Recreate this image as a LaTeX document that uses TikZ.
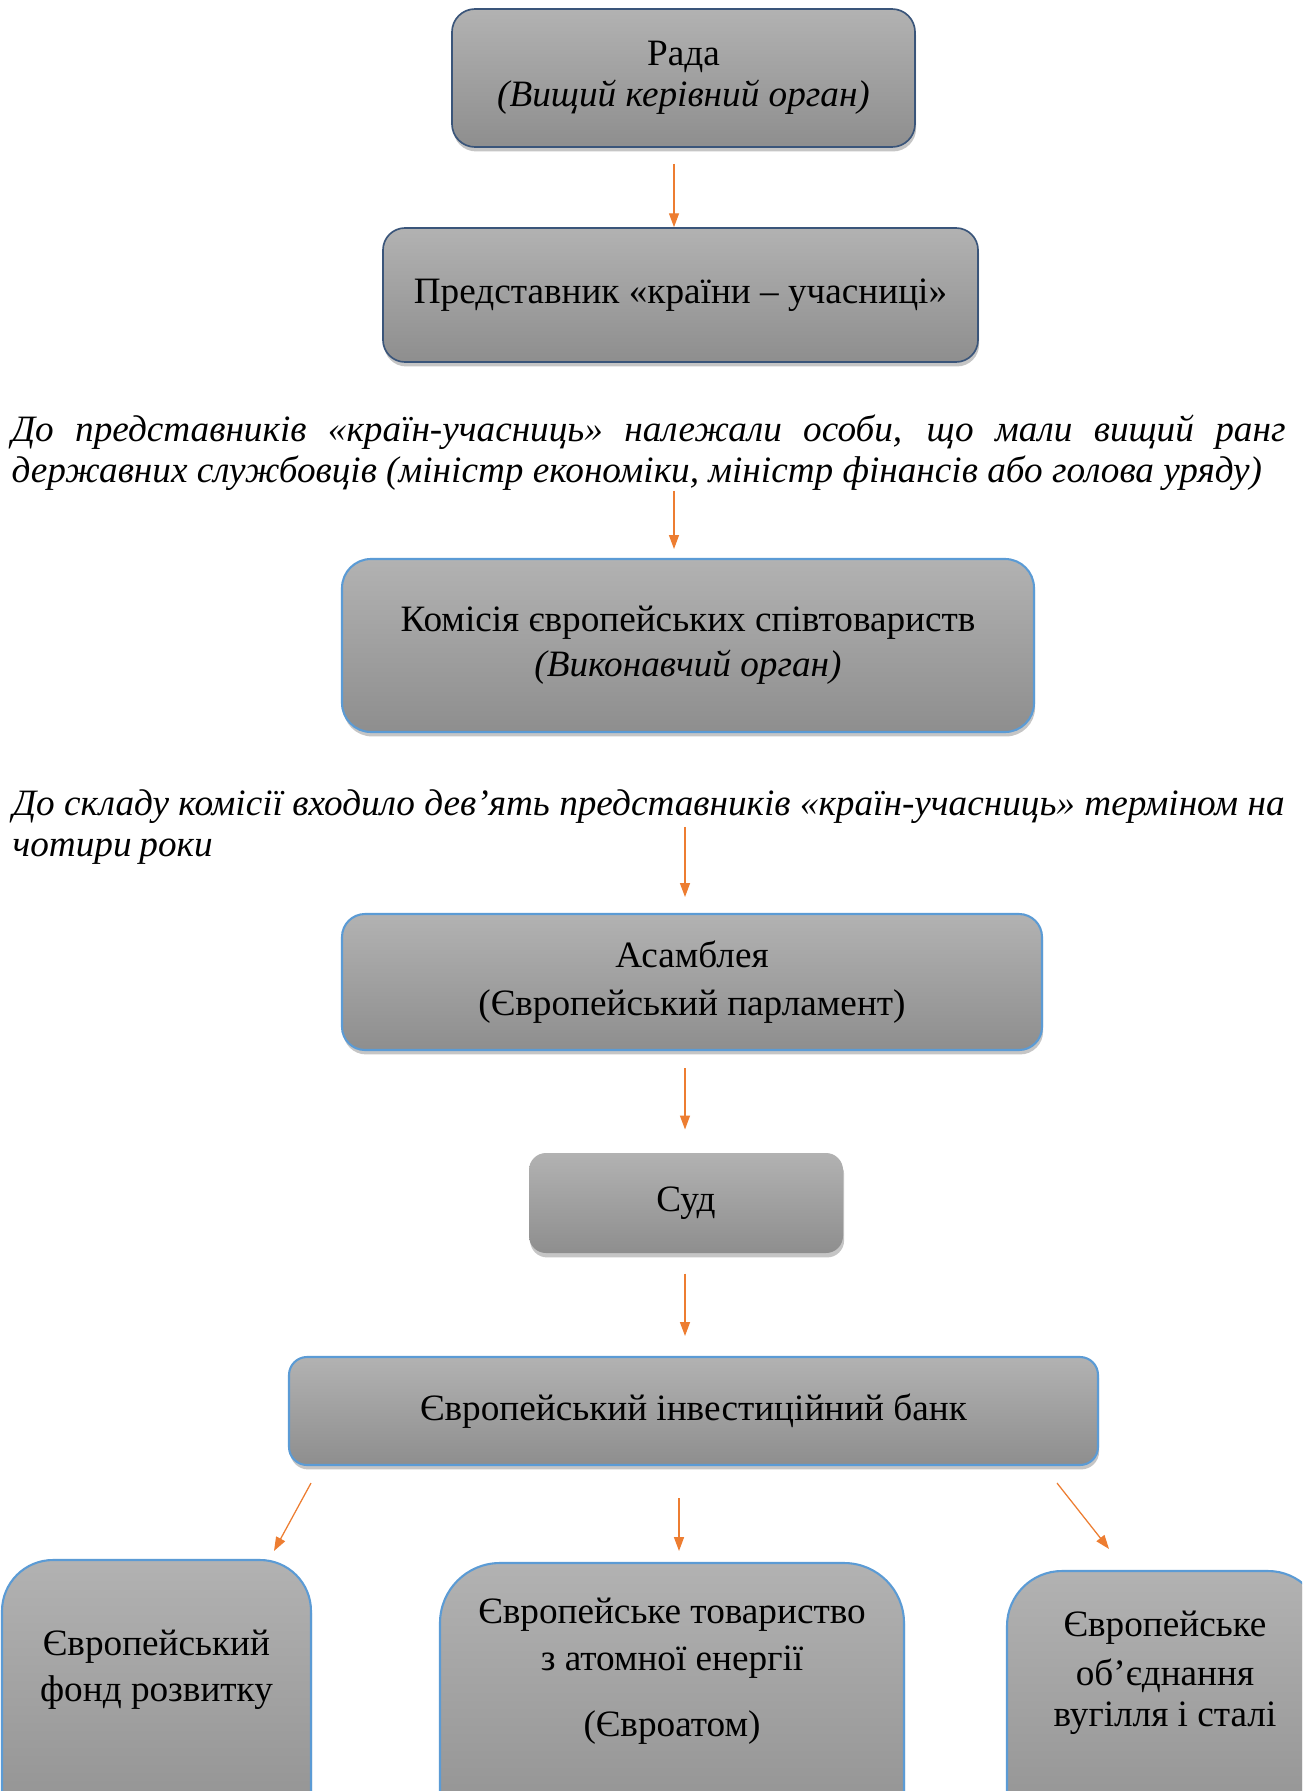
\documentclass[tikz,border=0pt]{standalone}
\usepackage{fontspec}
\setmainfont{Liberation Serif}
\usetikzlibrary{shadows,arrows.meta,calc}
\definecolor{navyb}{HTML}{3A557A}
\definecolor{lblue}{HTML}{5B9BD5}
\definecolor{arrorange}{HTML}{ED7D31}
\definecolor{gtop}{HTML}{B2B2B2}
\definecolor{gbot}{HTML}{8E8E8E}
\newcommand\pxu{0.36pt}
\newcommand\tightsp{\spaceskip=0.21em plus 0.6em minus 0.06em\relax}
\tikzset{
  txt/.style={font=\fontsize{13.4}{14.8}\selectfont},
  itxt/.style={font=\fontsize{13.4}{14.8}\selectfont\itshape},
  gbox/.style={txt, top color=gtop, bottom color=gbot, inner sep=0pt, align=center,
     drop shadow={opacity=0.45, shadow xshift=0.4pt, shadow yshift=-1.6pt}},
  navyline/.style={draw=navyb, line width=0.6pt},
  blueline/.style={draw=lblue, line width=0.75pt},
  arr/.style={draw=arrorange, line width=0.45pt, -{Triangle[length=5pt,width=3.6pt]}},
}
\begin{document}
\begin{tikzpicture}[x=0.36pt, y=-0.36pt]
\path[use as bounding box, clip] (0,0) rectangle (1302,1791);
\fill[white] (0,0) rectangle (1302,1791);

\node[gbox, navyline, rounded corners=23*\pxu, minimum width=463*\pxu, minimum height=138*\pxu] (rada) at (683.5,78)
  {Рада\\\textit{(Вищий керівний орган)}};
\node[gbox, navyline, rounded corners=22*\pxu, minimum width=595*\pxu, minimum height=134*\pxu] (pred) at (680.5,295)
  {Представник «країни – учасниці»};

\node[itxt, anchor=north west, inner sep=0pt, text width=1274*\pxu, align=justify] (para1) at (11,414)
  {До представників «країн-учасниць» належали особи, що мали вищий ранг\linebreak державних службовців (міністр економіки, міністр фінансів або голова уряду)};

\node[gbox, blueline, rounded corners=29*\pxu, minimum width=692*\pxu, minimum height=173*\pxu] (kom) at (688,645.5)
  {Комісія європейських співтовариств\\[4*\pxu]\textit{(Виконавчий орган)}};

\node[itxt, anchor=north west, inner sep=0pt, text width=1272*\pxu, align=justify] (para2) at (12,789)
  {\tightsp До складу комісії входило дев’ять представників «країн-учасниць» терміном на\linebreak чотири роки};

\node[gbox, blueline, rounded corners=23*\pxu, minimum width=700*\pxu, minimum height=136*\pxu] (asm) at (692,982)
  {Асамблея\\[7*\pxu](Європейський парламент)};

\node[gbox, rounded corners=17*\pxu, minimum width=314*\pxu, minimum height=100*\pxu] (sud) at (686,1203)
  {Суд};

\node[gbox, blueline, rounded corners=18*\pxu, minimum width=809*\pxu, minimum height=108*\pxu] (bank) at (693.5,1411)
  {Європейський інвестиційний банк};

\node[gbox, blueline, rounded corners=51*\pxu, minimum width=309*\pxu, minimum height=300*\pxu] (b1) at (156.5,1710) {};
\node[txt, align=center, inner sep=0pt] (b1t) at (156.5,1670) {Європейський\\[5*\pxu]фонд розвитку};

\node[gbox, blueline, rounded corners=60*\pxu, minimum width=464*\pxu, minimum height=300*\pxu] (b2) at (672,1713) {};
\node[txt, align=center, inner sep=0pt] (b2t) at (672,1671.5) {Європейське товариство\\[6*\pxu]з атомної енергії\\[25*\pxu](Євроатом)};

\node[gbox, blueline, rounded corners=55*\pxu, minimum width=316*\pxu, minimum height=300*\pxu] (b3) at (1165,1721) {};
\node[txt, align=center, inner sep=0pt] (b3t) at (1165,1673) {Європейське\\[8*\pxu]об’єднання\\вугілля і сталі};

\draw[arr] ($(rada.south)+(-9.5,16)$) -- ($(pred.north)+(-6.5,0)$);
\draw[arr] ($(para1.south -| kom.north)+(-14,0)$) -- ($(kom.north)+(-14,-9)$);
\draw[arr] ($(para2.south -| asm.north)+(-7,-38)$) -- ($(asm.north)+(-7,-16)$);
\draw[arr] ($(asm.south)+(-7,17)$) -- ($(sud.north)+(-1,-23)$);
\draw[arr] ($(sud.south)+(-1,20)$) -- ($(bank.north)+(-8.5,-20)$);
\draw[arr] ($(bank.south)+(-382.5,17)$) -- ($(b1.north)+(117.5,-8)$);
\draw[arr] ($(bank.south)+(-14.5,32)$) -- ($(b2.north)+(7,-11)$);
\draw[arr] ($(bank.south)+(363.5,17)$) -- ($(b3.north)+(-56,-21)$);
\end{tikzpicture}
\end{document}
